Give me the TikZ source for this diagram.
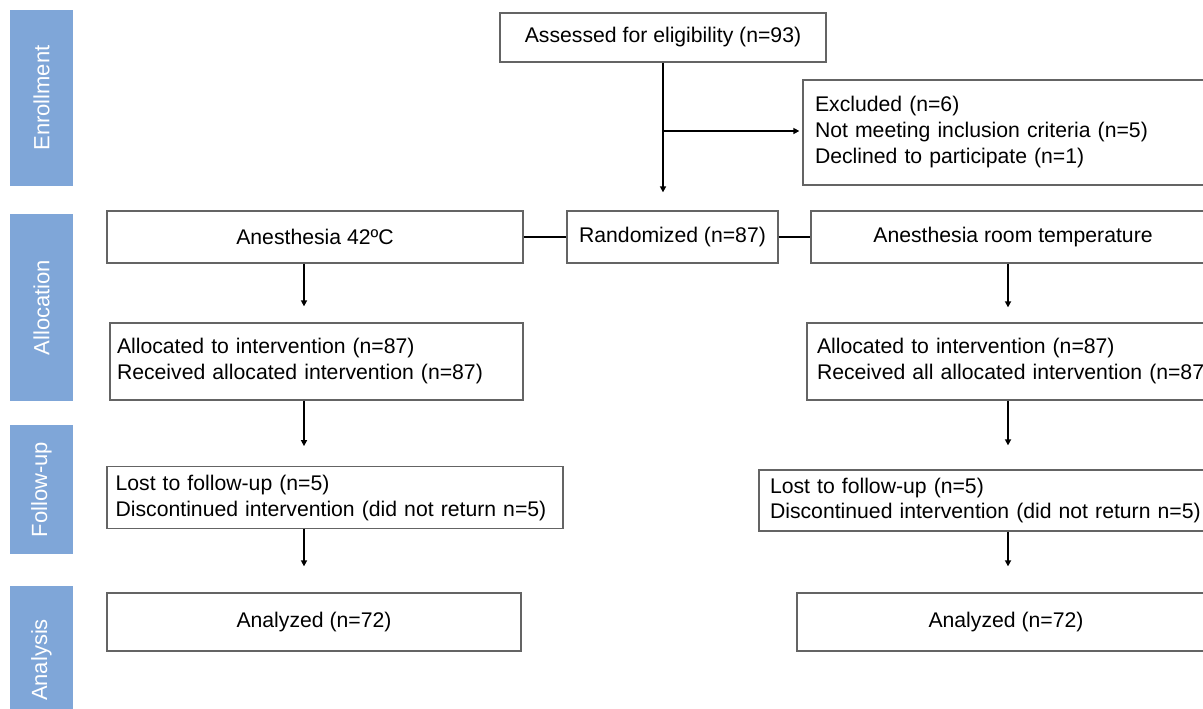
\documentclass[tikz,border=0pt]{standalone}
\usepackage{fontspec}
\setmainfont{Liberation Sans}
\usetikzlibrary{arrows.meta}
\definecolor{phaseblue}{RGB}{127,166,216}
\definecolor{boxgray}{RGB}{100,100,100}

\begin{document}
\begin{tikzpicture}[x=0.5pt, y=-0.5pt,
  font=\fontsize{10.6}{13}\selectfont,
  phase/.style={fill=phaseblue, text=white, rotate=90, inner sep=0pt, minimum height=31.5pt,
    font=\fontsize{11}{13}\selectfont},
  box/.style={draw=boxgray, line width=0.65pt, inner sep=0pt, align=center},
  lbox/.style={draw=boxgray, line width=0.65pt, inner ysep=0pt, align=left},
  flow/.style={-{Triangle[length=3pt,width=3pt]}, line width=0.8pt}]
  \useasboundingbox (0,0) rectangle (1203,708);

  % Phase bars
  \node[phase, minimum width=88pt] (enrol) at (41.5,98) {Enrollment};
  \node[phase, minimum width=93.5pt] (alloc) at (41.5,307.5) {Allocation};
  \node[phase, minimum width=64.5pt] (follow) at (41.5,489.5) {Follow-up};
  \node[phase, minimum width=74pt] (anal) at (41.5,660) {Analysis};

  % Enrollment
  \node[box, minimum width=163pt, minimum height=24.5pt] (assess) at (663,37.5) {Assessed for eligibility (n=93)};
  \node[lbox, inner xsep=6pt, text width=201.5pt, minimum height=52.5pt] (excl) at (1016.5,132.5)
    {Excluded (n=6)\\Not meeting inclusion criteria (n=5)\\Declined to participate (n=1)};

  % Allocation
  \node[box, minimum width=208pt, minimum height=26pt] (anes42) at (315,237) {Anesthesia 42ºC};
  \node[box, minimum width=105.5pt, minimum height=26pt] (rand) at (672.5,237) {Randomized (n=87)};
  \node[box, minimum width=202pt, minimum height=26pt] (room) at (1013,237) {Anesthesia room temperature};
  \node[lbox, inner xsep=3.5pt, text width=199.5pt, minimum height=38.5pt] (alloc42) at (316.5,361.5)
    {Allocated to intervention (n=87)\\Received allocated intervention (n=87)};
  \node[lbox, inner xsep=5pt, text width=201.5pt, minimum height=38.5pt] (allocRT) at (1018.5,361.5)
    {Allocated to intervention (n=87)\\Received all allocated intervention (n=87)};

  % Follow-up
  \node[lbox, inner xsep=4.3pt, text width=219.4pt, minimum height=30.75pt] (follow42) at (335,497.5)
    {Lost to follow-up (n=5)\\Discontinued intervention (did not return n=5)};
  \node[lbox, inner xsep=5.5pt, text width=224.5pt, minimum height=30.5pt] (followRT) at (994.5,500.5)
    {Lost to follow-up (n=5)\\Discontinued intervention (did not return n=5)};

  % Analysis
  \node[box, minimum width=207pt, minimum height=29pt] (anal42) at (314,622) {Analyzed (n=72)};
  \node[box, minimum width=209pt, minimum height=29pt] (analRT) at (1006,622) {Analyzed (n=72)};

  % Connectors
  \coordinate (colL) at (304,0);
  \coordinate (colR) at (1008,0);
  \coordinate (split) at (663,131);
  \draw[flow, shorten >=9pt] (assess.south) -- (assess.south |- rand.north);
  \draw[flow, shorten >=1.5pt] (split) -- (excl.west |- split);
  \draw[line width=0.8pt] (anes42) -- (rand);
  \draw[line width=0.8pt] (rand) -- (room);
  \foreach \a/\b/\c/\s in {anes42/alloc42/colL/8pt, alloc42/follow42/colL/10pt, follow42/anal42/colL/13pt,
                           room/allocRT/colR/7.5pt, allocRT/followRT/colR/12pt, followRT/analRT/colR/13pt}
    \draw[flow, shorten >=\s] (\a.south -| \c) -- (\b.north -| \c);
\end{tikzpicture}
\end{document}
